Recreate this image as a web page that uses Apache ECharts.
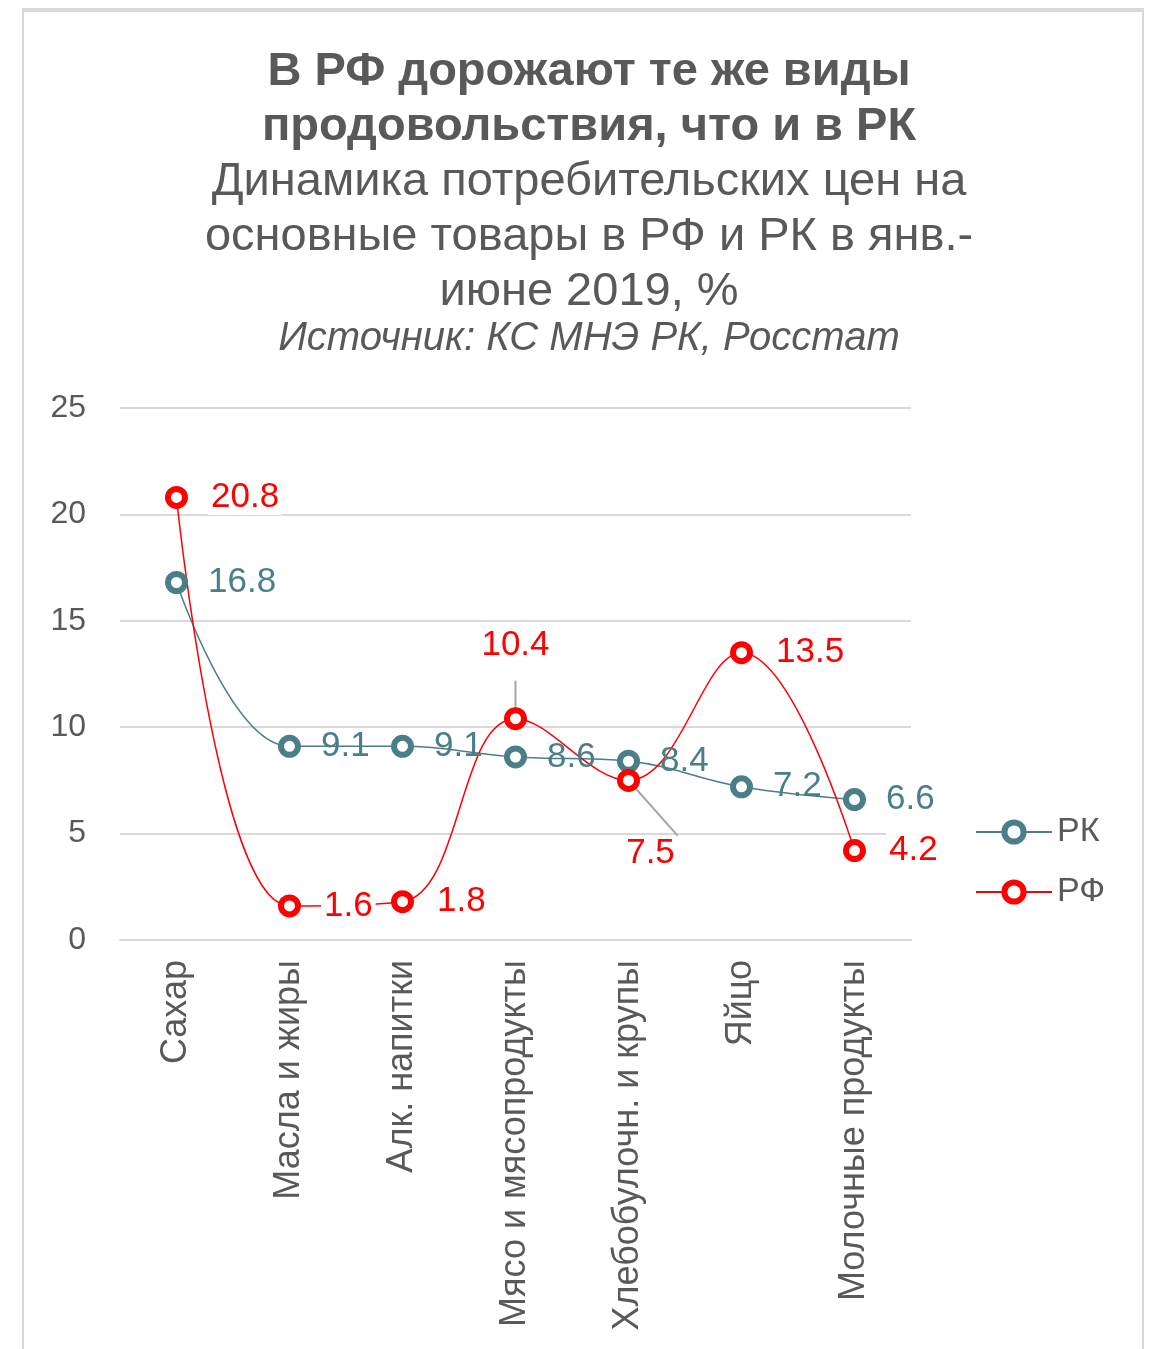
<!DOCTYPE html>
<html>
<head>
<meta charset="utf-8">
<script src="https://cdn.jsdelivr.net/npm/echarts@6/dist/echarts.min.js"></script>
<style>
  html, body { margin: 0; padding: 0; background: #fff; }
  #chart { width: 1149px; height: 1349px; }
  #frame { position: absolute; left: 22px; top: 8px; width: 1122px; height: 1360px;
           border: 2px solid #d9d9d9; border-top-width: 4px; box-sizing: border-box; pointer-events: none; }
</style>
</head>
<body>
<div id="chart"></div>
<div id="frame"></div>
<script>
const categories = ['Сахар', 'Масла и жиры', 'Алк. напитки', 'Мясо и мясопродукты', 'Хлебобулочн. и крупы', 'Яйцо', 'Молочные продукты']
const rkValues = [16.8, 9.1, 9.1, 8.6, 8.4, 7.2, 6.6]
const rfValues = [20.8, 1.6, 1.8, 10.4, 7.5, 13.5, 4.2]
const yTicks = [0, 5, 10, 15, 20, 25]

const textColor = '#595959'
const rkColor = '#4a7f8a'
const rfColor = '#ff0000'
const font = '"Liberation Sans", Arial, sans-serif'

let myChart = echarts.init(document.getElementById('chart'))

// у РФ две подписи вынесены с выноской
let rfData = rfValues.map((v, i) => {
    if (i == 3) {
        return { value: v, label: { position: 'top', distance: 44 }, labelLine: { show: true, lineStyle: { color: '#a6a6a6', width: 2 } } }
    }
    if (i == 4) {
        return { value: v, label: { position: 'bottom', distance: 44, offset: [22, 0] }, labelLine: { show: true, lineStyle: { color: '#a6a6a6', width: 2 } } }
    }
    return v
})

function makeSeries(name, data, color, withBg) {
    let label = {
        show: true,
        position: 'right',
        distance: 20,
        fontSize: 35,
        color: color,
        fontFamily: font
    }
    if (withBg) {
        label.backgroundColor = '#fff'
        label.padding = [0, 3]
    }
    return {
        name: name,
        type: 'line',
        data: data,
        smooth: 0.4,
        symbol: 'circle',
        symbolSize: 17,
        lineStyle: { width: 1.5, color: color },
        itemStyle: { color: '#fff', borderColor: color, borderWidth: 6 },
        label: label
    }
}

let option = {
    animation: false,
    textStyle: { fontFamily: font },
    title: [
        {
            text: 'В РФ дорожают те же виды\nпродовольствия, что и в РК',
            left: 584, top: 40, textAlign: 'center',
            textStyle: { fontSize: 47, fontWeight: 'bold', lineHeight: 55, color: textColor, fontFamily: font }
        },
        {
            text: 'Динамика потребительских цен на\nосновные товары в РФ и РК в янв.-\nиюне 2019, %',
            left: 584, top: 150, textAlign: 'center',
            textStyle: { fontSize: 47, fontWeight: 'normal', lineHeight: 55, color: textColor, fontFamily: font }
        },
        {
            text: 'Источник: КС МНЭ РК, Росстат',
            left: 584, top: 314, textAlign: 'center',
            textStyle: { fontSize: 40, fontWeight: 'normal', fontStyle: 'italic', color: textColor, fontFamily: font }
        }
    ],
    legend: {
        orient: 'vertical',
        left: 970,
        top: 810,
        itemWidth: 76,
        itemHeight: 24,
        itemGap: 26,
        itemStyle: { borderWidth: 6 },
        textStyle: { fontSize: 34, color: textColor, fontFamily: font },
        data: ['РК', 'РФ']
    },
    grid: {
        left: 120,
        right: 238,
        top: 408,
        bottom: 409
    },
    xAxis: {
        type: 'category',
        data: categories,
        boundaryGap: true,
        axisLine: { show: true, lineStyle: { color: '#d9d9d9', width: 2 } },
        axisTick: { show: false },
        axisLabel: {
            rotate: 90,
            interval: 0,
            margin: 20,
            fontSize: 36,
            color: textColor,
            fontFamily: font
        }
    },
    yAxis: {
        type: 'value',
        min: 0,
        max: 25,
        interval: 5,
        axisLine: { show: false },
        axisTick: { show: false },
        splitLine: { lineStyle: { color: '#d9d9d9', width: 2 } },
        axisLabel: {
            margin: 34,
            fontSize: 32,
            color: textColor,
            fontFamily: font,
            formatter: (v) => yTicks.includes(v) ? String(v) : ''
        }
    },
    series: [
        makeSeries('РК', rkValues, rkColor, false),
        makeSeries('РФ', rfData, rfColor, true)
    ]
}
myChart.setOption(option)
</script>
</body>
</html>
